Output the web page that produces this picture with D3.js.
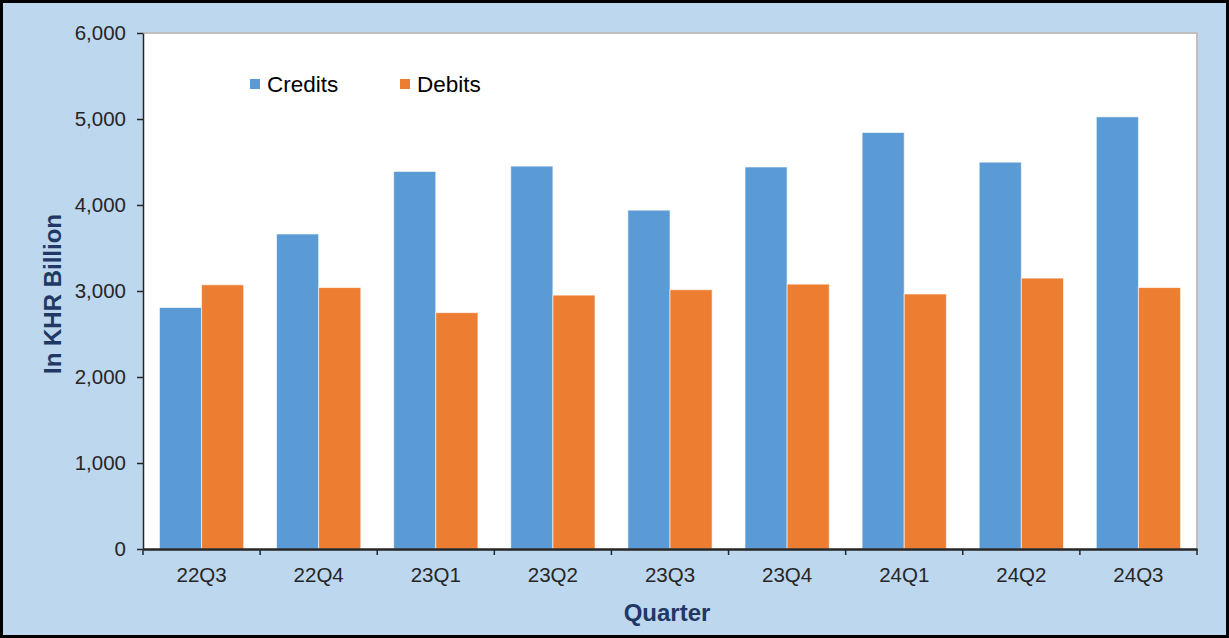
<!DOCTYPE html>
<html>
<head>
<meta charset="utf-8">
<script src="https://cdn.jsdelivr.net/npm/d3@7"></script>
<style>
  html, body { margin: 0; padding: 0; background: #fff; }
  svg { display: block; font-family: "Liberation Sans", Arial, sans-serif; }
</style>
</head>
<body>
<svg id="chart" width="1229" height="638"></svg>
<script>
// chart values
const quarters = ['22Q3', '22Q4', '23Q1', '23Q2', '23Q3', '23Q4', '24Q1', '24Q2', '24Q3'];
const credits = [2808, 3663, 4390, 4452, 3940, 4442, 4843, 4498, 5025];
const debits = [3072, 3040, 2748, 2952, 3015, 3080, 2965, 3150, 3040];
const seriesNames = ['Credits', 'Debits'];
const seriesColors = ['#5B9BD5', '#ED7D31'];
const yTicks = [0, 1000, 2000, 3000, 4000, 5000, 6000];

const svg = d3.select('#chart');
const W = 1229, H = 638;

// outer frame
svg.append('rect')
  .attr('x', 1.5).attr('y', 1.5)
  .attr('width', W - 3).attr('height', H - 3)
  .attr('fill', '#BDD7EE')
  .attr('stroke', '#000').attr('stroke-width', 3);

// plot area bounds
const plotL = 143, plotR = 1197, plotT = 33, plotB = 549;

svg.append('rect')
  .attr('x', plotL).attr('y', plotT)
  .attr('width', plotR - plotL).attr('height', plotB - plotT)
  .attr('fill', '#fff');
// grey border on top and right
svg.append('path')
  .attr('d', `M${plotL},${plotT}H${plotR}V${plotB}`)
  .attr('fill', 'none')
  .attr('stroke', '#BFBFBF').attr('stroke-width', 2);

const x0 = d3.scaleBand().domain(quarters).range([plotL, plotR]).paddingInner(0).paddingOuter(0);
const x1 = d3.scaleBand().domain(seriesNames).range([0, x0.bandwidth()]).paddingOuter(0.39).paddingInner(0);
const y = d3.scaleLinear().domain([0, 6000]).range([plotB, plotT]);

const rows = quarters.map((q, i) => ({ q, vals: [credits[i], debits[i]] }));

const groups = svg.append('g').selectAll('g')
  .data(rows).enter().append('g')
  .attr('transform', d => 'translate(' + x0(d.q) + ',0)');

groups.selectAll('rect')
  .data(d => d.vals.map((v, j) => ({ name: seriesNames[j], v, c: seriesColors[j] })))
  .enter().append('rect')
  .attr('x', d => x1(d.name))
  .attr('y', d => y(d.v))
  .attr('width', x1.bandwidth())
  .attr('height', d => y(0) - y(d.v))
  .attr('fill', d => d.c)
  .attr('stroke', '#fff').attr('stroke-opacity', 0.6).attr('stroke-width', 1);

// y axis
const yAxis = svg.append('g')
  .attr('transform', 'translate(' + plotL + ',0)')
  .call(d3.axisLeft(y).tickValues(yTicks).tickFormat(d3.format(',')).tickSize(6).tickSizeOuter(0).tickPadding(11));
yAxis.select('.domain').attr('stroke', '#262626').attr('stroke-width', 1.5);
yAxis.selectAll('.tick line').attr('stroke', '#262626').attr('stroke-width', 1.5);
yAxis.selectAll('.tick text').attr('fill', '#262626').style('font-size', '20.5px');

// x axis, ticks at category boundaries
const xAxis = svg.append('g')
  .attr('transform', 'translate(0,' + plotB + ')')
  .call(d3.axisBottom(x0).tickSize(0).tickPadding(18));
xAxis.select('.domain').attr('stroke', '#262626').attr('stroke-width', 2.5);
xAxis.selectAll('.tick text').attr('fill', '#262626').style('font-size', '20.5px');
xAxis.selectAll('.bound')
  .data(quarters.map(q => x0(q)).concat([plotR]))
  .enter().append('line')
  .attr('x1', d => d).attr('x2', d => d)
  .attr('y1', 0).attr('y2', 6)
  .attr('stroke', '#262626').attr('stroke-width', 1.5);

// axis titles
svg.append('text')
  .attr('transform', 'translate(61,' + ((plotT + plotB) / 2 + 3) + ') rotate(-90)')
  .attr('text-anchor', 'middle')
  .attr('fill', '#1F3864')
  .style('font-size', '24px').style('font-weight', 'bold')
  .text('In KHR Billion');
svg.append('text')
  .attr('x', (plotL + plotR) / 2 - 3).attr('y', 621)
  .attr('text-anchor', 'middle')
  .attr('fill', '#1F3864')
  .style('font-size', '24px').style('font-weight', 'bold')
  .text('Quarter');

// legend
const legendX = [250, 400];
const legend = svg.append('g').selectAll('g')
  .data(seriesNames).enter().append('g')
  .attr('transform', (d, i) => 'translate(' + legendX[i] + ',79)');
legend.append('rect')
  .attr('width', 10).attr('height', 10)
  .attr('fill', (d, i) => seriesColors[i]);
legend.append('text')
  .attr('x', 17).attr('y', 13)
  .attr('fill', '#000')
  .style('font-size', '22.5px')
  .text(d => d);
</script>
</body>
</html>
